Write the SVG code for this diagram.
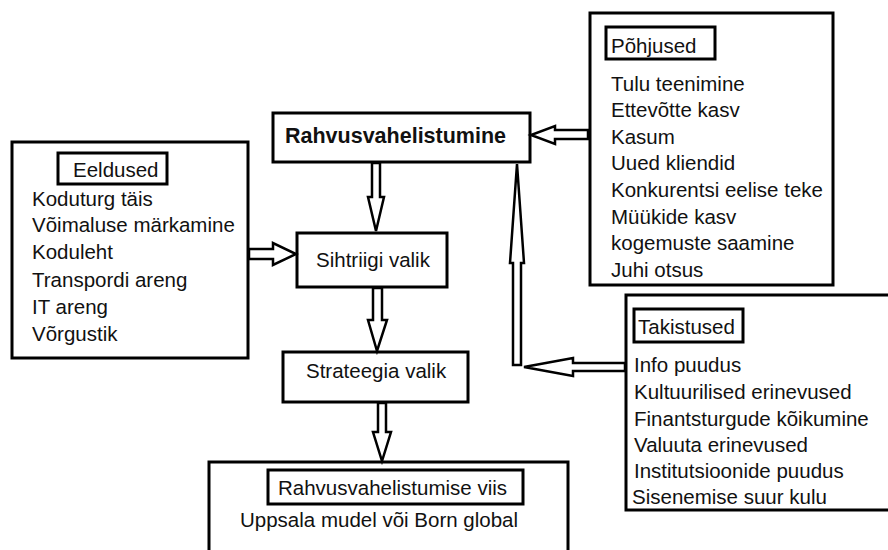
<svg xmlns="http://www.w3.org/2000/svg" width="888" height="550" viewBox="0 0 888 550">
<style>
.box{fill:#fff;stroke:#000;stroke-width:3}
.tbox{fill:none;stroke:#000;stroke-width:3}
.t{font-family:"Liberation Sans",Arial,sans-serif;font-size:20.5px;fill:#111}
.b{font-family:"Liberation Sans",Arial,sans-serif;font-size:21.5px;font-weight:bold;fill:#111}
.arr{fill:#fff;stroke:#000;stroke-width:2.5;stroke-linejoin:miter}
</style>
<rect width="888" height="550" fill="#fff"/>
<g id="rahvusvahelistumine">
<rect class="box" x="273" y="113" width="257" height="49"/>
<text class="b" x="285" y="143">Rahvusvahelistumine</text>
</g>
<g id="pohjused">
<rect class="box" x="590" y="13" width="243" height="272"/>
<rect class="tbox" x="606" y="27" width="109" height="32"/>
<text class="t" x="611" y="53">Põhjused</text>
<text class="t" x="611" y="91">Tulu teenimine</text>
<text class="t" x="611" y="117">Ettevõtte kasv</text>
<text class="t" x="611" y="144">Kasum</text>
<text class="t" x="611" y="170">Uued kliendid</text>
<text class="t" x="611" y="197">Konkurentsi eelise teke</text>
<text class="t" x="611" y="224">Müükide kasv</text>
<text class="t" x="611" y="250">kogemuste saamine</text>
<text class="t" x="611" y="277">Juhi otsus</text>
</g>
<g id="eeldused">
<rect class="box" x="12" y="142" width="236" height="216"/>
<rect class="tbox" x="58" y="153" width="109" height="31"/>
<text class="t" x="73" y="177">Eeldused</text>
<text class="t" x="32" y="206">Koduturg täis</text>
<text class="t" x="32" y="232">Võimaluse märkamine</text>
<text class="t" x="32" y="259">Koduleht</text>
<text class="t" x="32" y="287">Transpordi areng</text>
<text class="t" x="32" y="314">IT areng</text>
<text class="t" x="32" y="341">Võrgustik</text>
</g>
<g id="sihtriigi">
<rect class="box" x="297" y="233" width="150" height="54"/>
<text class="t" x="316" y="267">Sihtriigi valik</text>
</g>
<g id="strateegia">
<rect class="box" x="283" y="352" width="185" height="50"/>
<text class="t" x="306" y="378">Strateegia valik</text>
</g>
<g id="takistused">
<rect class="box" x="626" y="295" width="270" height="215"/>
<rect class="tbox" x="634" y="309" width="109" height="33"/>
<text class="t" x="638" y="334">Takistused</text>
<text class="t" x="634" y="372">Info puudus</text>
<text class="t" x="634" y="399">Kultuurilised erinevused</text>
<text class="t" x="634" y="426">Finantsturgude kõikumine</text>
<text class="t" x="634" y="452">Valuuta erinevused</text>
<text class="t" x="634" y="478">Institutsioonide puudus</text>
<text class="t" x="632" y="504">Sisenemise suur kulu</text>
</g>
<g id="viis">
<rect class="box" x="209" y="462" width="359" height="100"/>
<rect class="tbox" x="268" y="470" width="255" height="34"/>
<text class="t" x="278" y="495">Rahvusvahelistumise viis</text>
<text class="t" x="240" y="527">Uppsala mudel või Born global</text>
</g>
<g id="connectors">
<polygon class="arr" points="372,163 380,163 380,197 384,197 376,231 368,197 372,197"/>
<polygon class="arr" points="373,288 382,288 382,320 387,320 377,351 368,320 373,320"/>
<polygon class="arr" points="378,403 386,403 386,432 391,432 382,461 373,432 378,432"/>
<polygon class="arr" points="249,249 273,249 273,243 296,254 273,265 273,259 249,259"/>
<polygon class="arr" points="588,130 555,130 555,126 531,135 555,144 555,139 588,139"/>
<polygon class="arr" points="625,363 573,363 573,358 524,367 573,376 573,371 625,371"/>
<polygon class="arr" points="513,365 513,263 510,263 517,164 524,263 521,263 521,365"/>
</g>
</svg>
